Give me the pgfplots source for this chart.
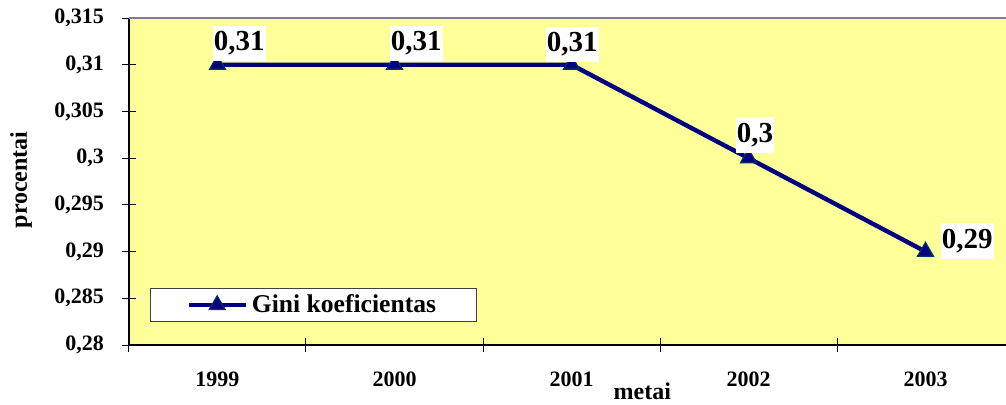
\documentclass[border=0pt]{standalone}
\usepackage{pgfplots}
\pgfplotsset{compat=1.18}
\usepackage{pgfplotstable}
\usepackage{fontspec}
\setmainfont{Liberation Serif}
\definecolor{bgyellow}{HTML}{FFFF99}
\definecolor{navyline}{HTML}{000080}
\definecolor{markedge}{HTML}{003366}

\pgfplotstableread{
x y lab dx dy
0 0.31 0,31 -2.5 1.5
1 0.31 0,31 -2.5 1.5
2 0.31 0,31 -13 1
3 0.30 0,3 -6.5 2.5
4 0.29 0,29 7.5 -4
}\labeldata

\begin{document}
\begin{tikzpicture}
\begin{axis}[
  scale only axis, width=442.5pt, height=163.5pt,
  xmin=-0.5, xmax=4.5, ymin=0.28, ymax=0.315,
  clip=false,
  axis x line*=bottom, axis y line*=left,
  axis line style={-, black, line width=0.8pt},
  axis background/.style={fill=bgyellow},
  xtick={-0.5,0.5,1.5,2.5,3.5,4.5}, xticklabels={},
  extra x ticks={0,1,2,3,4},
  extra x tick labels={1999,2000,2001,2002,2003},
  extra x tick style={major tick length=0pt},
  ytick={0.28,0.285,0.29,0.295,0.3,0.305,0.31,0.315},
  scaled y ticks=false,
  tick align=center, major tick length=7pt,
  tick style={black, line width=0.5pt},
  /pgf/number format/assume math mode=true,
  yticklabel style={/pgf/number format/.cd, use comma, fixed, precision=3, /tikz/.cd,
    font=\fontsize{11}{13}\selectfont\bfseries, xshift=-5.5pt},
  xticklabel style={font=\fontsize{11}{13}\selectfont\bfseries, yshift=-10pt},
  xlabel={metai},
  xlabel style={at={(rel axis cs:0.58,0)}, anchor=base, yshift=-27pt, font=\fontsize{12}{14}\selectfont\bfseries},
  ylabel={procentai},
  ylabel style={at={([xshift=-51pt]rel axis cs:0,0.505)}, anchor=base, font=\fontsize{12}{14}\selectfont\bfseries},
  legend style={at={(rel axis cs:0.0237,0.0703)}, anchor=south west, draw=darkgray, fill=white,
    line width=0.5pt, inner xsep=18pt, inner ysep=1pt, font=\fontsize{12.8}{15}\selectfont\bfseries},
  legend image code/.code={\draw[mark repeat=2, mark phase=2] plot coordinates {(0pt,0pt) (14.25pt,0pt) (28.5pt,0pt)};},
]
\coordinate (o) at (rel axis cs:0,0);
\draw[gray, line width=1pt] (rel axis cs:0,1) -- (rel axis cs:1,1);
\addplot[navyline, line width=2.2pt, mark=triangle*, mark size=4.6pt,
  mark options={fill=navyline, draw=markedge, line width=0.6pt}]
  coordinates {(0,0.31) (1,0.31) (2,0.31) (3,0.30) (4,0.29)};
\addlegendentry{Gini koeficientas}
\addplot[draw=none, mark=none, forget plot, nodes near coords, point meta=explicit symbolic,
  visualization depends on={\thisrow{dx}\as\ldx},
  visualization depends on={\thisrow{dy}\as\ldy},
  nodes near coords style={anchor=south west, xshift=\ldx pt, yshift=\ldy pt, fill=white,
    inner xsep=0.5pt, inner ysep=3pt, text=black, font=\fontsize{14.5}{16}\selectfont\bfseries}]
  table[x=x, y=y, meta=lab] {\labeldata};
\end{axis}
\pgfresetboundingbox
\useasboundingbox ([shift={(-64.5pt,-29.5pt)}]o) rectangle ([shift={(438.5pt,172.5pt)}]o);
\end{tikzpicture}
\end{document}
